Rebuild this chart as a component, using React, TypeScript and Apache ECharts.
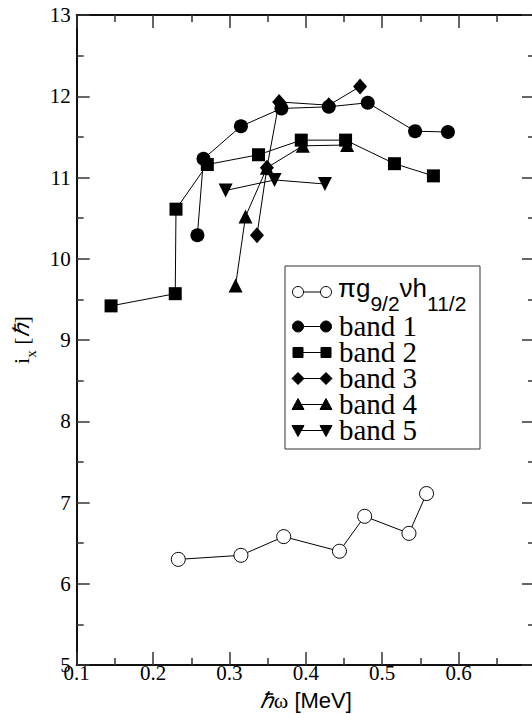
import React, { useEffect, useRef } from "react";
import * as echarts from "echarts";

// ---- data (hbar*omega [MeV], i_x [hbar]) ----
const piNuOmega = [0.233, 0.315, 0.371, 0.444, 0.477, 0.535, 0.558];
const piNuIx = [6.3, 6.35, 6.58, 6.4, 6.83, 6.62, 7.11];

const band1Omega = [0.258, 0.266, 0.315, 0.368, 0.43, 0.481, 0.543, 0.586];
const band1Ix = [10.29, 11.23, 11.63, 11.85, 11.87, 11.92, 11.57, 11.56];

const band2Omega = [0.145, 0.229, 0.23, 0.271, 0.338, 0.394, 0.452, 0.516, 0.567];
const band2Ix = [9.42, 9.57, 10.61, 11.16, 11.28, 11.46, 11.46, 11.17, 11.02];

const band3Omega = [0.336, 0.349, 0.365, 0.43, 0.471];
const band3Ix = [10.29, 11.12, 11.93, 11.89, 12.12];

const band4Omega = [0.308, 0.321, 0.349, 0.396, 0.454];
const band4Ix = [9.67, 10.52, 11.12, 11.39, 11.4];

const band5Omega = [0.295, 0.359, 0.425];
const band5Ix = [10.84, 10.97, 10.92];

const legendLabels = ["band 1", "band 2", "band 3", "band 4", "band 5"];

const pair = (xs: number[], ys: number[]) => xs.map((x, i) => [x, ys[i]]);

const SERIF = "Liberation Serif";
const SANS = "Liberation Sans";

function buildLegend() {
  const els: any[] = [];
  els.push({
    type: "rect",
    shape: { x: 285, y: 266, width: 195, height: 183 },
    style: { fill: "#fff", stroke: "#333", lineWidth: 1 },
    z: 100,
  });
  const rows = [292, 326.5, 352.5, 378.5, 404.5, 430.5];
  const x1 = 298;
  const x2 = 326;
  const sym = (kind: string, x: number, y: number) => {
    const black = { fill: "#000", stroke: "#000", lineWidth: 1 };
    switch (kind) {
      case "open":
        return { type: "circle", shape: { cx: x, cy: y, r: 5.5 }, style: { fill: "#fff", stroke: "#000", lineWidth: 1 }, z: 102 };
      case "circle":
        return { type: "circle", shape: { cx: x, cy: y, r: 5.5 }, style: black, z: 102 };
      case "rect":
        return { type: "rect", shape: { x: x - 5, y: y - 5, width: 10, height: 10 }, style: black, z: 102 };
      case "diamond":
        return { type: "polygon", shape: { points: [[x - 6, y], [x, y - 6], [x + 6, y], [x, y + 6]] }, style: black, z: 102 };
      case "up":
        return { type: "polygon", shape: { points: [[x - 6, y + 5], [x + 6, y + 5], [x, y - 6]] }, style: black, z: 102 };
      default:
        return { type: "polygon", shape: { points: [[x - 6, y - 5], [x + 6, y - 5], [x, y + 6]] }, style: black, z: 102 };
    }
  };
  const kinds = ["open", "circle", "rect", "diamond", "up", "down"];
  rows.forEach((y, i) => {
    els.push({ type: "line", shape: { x1, y1: y, x2, y2: y }, style: { stroke: "#000", lineWidth: 1 }, z: 101 });
    els.push(sym(kinds[i], x1, y));
    els.push(sym(kinds[i], x2, y));
  });
  els.push({
    type: "text",
    x: 338,
    y: 294,
    z: 103,
    style: {
      text: "{a|πg}{b|9/2}{a|νh}{b|11/2}",
      verticalAlign: "middle",
      fill: "#000",
      rich: {
        a: { fontFamily: SANS, fontSize: 26, verticalAlign: "bottom", padding: [0, 0, 13, 0], fill: "#000" },
        b: { fontFamily: SANS, fontSize: 21, verticalAlign: "bottom", fill: "#000" },
      },
    },
  });
  legendLabels.forEach((t, i) => {
    els.push({
      type: "text",
      x: 339,
      y: rows[i + 1] - 1,
      z: 103,
      style: { text: t, fontFamily: SERIF, fontSize: 29, fill: "#000", verticalAlign: "middle" },
    });
  });
  return els;
}

export default function App() {
  const ref = useRef<HTMLDivElement>(null);
  useEffect(() => {
    const chart = echarts.init(ref.current!, null, { renderer: "svg" });
    const axisLine = { show: true, onZero: false, lineStyle: { color: "#111", width: 2 } };
    const tick = { show: true, inside: true, length: 13, lineStyle: { color: "#333", width: 1.5 } };
    const minor = { show: true, splitNumber: 2, length: 7, lineStyle: { color: "#333", width: 1.5 } };
    const lineStyle = { color: "#000", width: 1 };
    const filled = { color: "#000" };
    const option: any = {
      animation: false,
      backgroundColor: "#fff",
      textStyle: { fontFamily: SERIF },
      grid: { left: 76.7, right: -3, top: 15, bottom: 49, outerBoundsMode: "none", containLabel: false },
      xAxis: [
        {
          type: "value",
          min: 0.1,
          max: 0.7,
          interval: 0.1,
          axisLine,
          axisTick: tick,
          minorTick: minor,
          splitLine: { show: false },
          axisLabel: {
            color: "#000",
            fontFamily: SERIF,
            fontSize: 21,
            margin: -3,
            showMaxLabel: false,
            formatter: (v: number) => (v > 0.65 ? "" : v.toFixed(1)),
          },
          name: "{h|ℏ}{w|ω}{m| [MeV]}",
          nameLocation: "middle",
          nameGap: 24,
          nameTextStyle: {
            rich: {
              h: { fontFamily: SERIF, fontStyle: "italic", fontSize: 22, color: "#000" },
              w: { fontFamily: SERIF, fontSize: 22, color: "#000" },
              m: { fontFamily: SANS, fontSize: 22, color: "#000" },
            },
          },
        },
        {
          type: "value",
          position: "top",
          min: 0.1,
          max: 0.7,
          interval: 0.1,
          axisLine,
          axisTick: tick,
          minorTick: minor,
          splitLine: { show: false },
          axisLabel: { show: false },
        },
      ],
      yAxis: [
        {
          type: "value",
          min: 5,
          max: 13,
          interval: 1,
          axisLine,
          axisTick: tick,
          minorTick: minor,
          splitLine: { show: false },
          axisLabel: { color: "#000", fontFamily: SERIF, fontSize: 21, margin: 6 },
          name: "{i|i}{x|x}{s| [}{h|ℏ}{s|]}",
          nameLocation: "middle",
          nameGap: 33,
          nameTextStyle: {
            rich: {
              i: { fontFamily: SERIF, fontSize: 22, color: "#000", verticalAlign: "bottom", padding: [0, 0, 6, 0] },
              x: { fontFamily: SERIF, fontSize: 15, color: "#000", verticalAlign: "bottom" },
              s: { fontFamily: SERIF, fontSize: 22, color: "#000", verticalAlign: "bottom", padding: [0, 0, 6, 0] },
              h: { fontFamily: SERIF, fontStyle: "italic", fontSize: 22, color: "#000", verticalAlign: "bottom", padding: [0, 0, 6, 0] },
            },
          },
        },
        {
          type: "value",
          position: "right",
          min: 5,
          max: 13,
          interval: 1,
          axisLine,
          axisTick: tick,
          minorTick: minor,
          splitLine: { show: false },
          axisLabel: { show: false },
        },
      ],
      series: [
        {
          name: "πg9/2νh11/2",
          type: "line",
          data: pair(piNuOmega, piNuIx),
          symbol: "circle",
          symbolSize: 14,
          showAllSymbol: true,
          lineStyle,
          itemStyle: { color: "#fff", borderColor: "#000", borderWidth: 1 },
          z: 2,
        },
        { name: "band 1", type: "line", data: pair(band1Omega, band1Ix), symbol: "circle", symbolSize: 14, lineStyle, itemStyle: filled, z: 2 },
        { name: "band 2", type: "line", data: pair(band2Omega, band2Ix), symbol: "rect", symbolSize: 13, lineStyle, itemStyle: filled, z: 2 },
        { name: "band 3", type: "line", data: pair(band3Omega, band3Ix), symbol: "diamond", symbolSize: [14, 16], lineStyle, itemStyle: filled, z: 3 },
        { name: "band 4", type: "line", data: pair(band4Omega, band4Ix), symbol: "triangle", symbolSize: 14, lineStyle, itemStyle: filled, z: 2 },
        { name: "band 5", type: "line", data: pair(band5Omega, band5Ix), symbol: "triangle", symbolRotate: 180, symbolSize: 14, lineStyle, itemStyle: filled, z: 2 },
      ],
      graphic: buildLegend(),
    };
    chart.setOption(option);
    return () => chart.dispose();
  }, []);
  return (
    <div
      ref={ref}
      style={{ position: "fixed", left: 0, top: 0, width: 532, height: 714, background: "#fff" }}
    />
  );
}
